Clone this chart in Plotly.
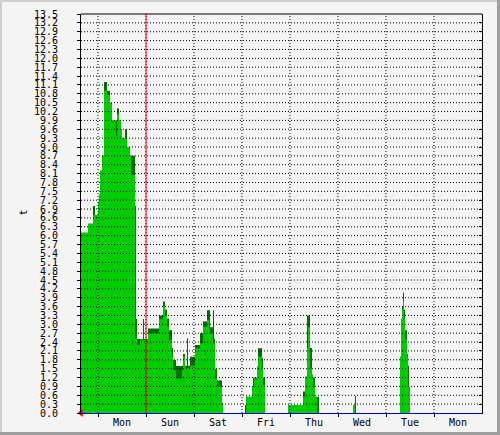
import plotly.graph_objects as go

# time in hours from the left edge of the graph (0.5 h per sample)
hours = [0, 3.5, 6, 7, 8.5, 9, 9.5, 10.5, 11.5, 13, 14.5, 15.5, 16.5, 17.5, 18, 19, 20, 20.5,
         22, 23, 24.5, 25, 27, 27.5, 28, 29.5, 31, 31.5, 33.5, 39, 41, 42, 43, 44, 45.5, 46,
         47.5, 50.5, 51, 52, 53, 53.5, 54.5, 57, 59.5, 61, 63, 64, 64.5, 66, 66.5, 67, 68,
         70.5, 71, 82, 82.5, 85.5, 86, 86.5, 88, 88.5, 90.5, 91, 92, 103.5, 111, 112, 113,
         113.5, 114.5, 115.5, 116, 117, 118, 119, 136, 137, 137.5, 159.5, 160, 160.5, 161,
         161.5, 162, 163, 163.5, 164, 164.5, 200.5]
avg = [6.1, 6.4, 6.7, 6.7, 7.15, 7.4, 8.2, 8.7, 10.9, 10.76, 10.48, 9.86, 9.9, 9.4, 10.1, 9.9, 9.57, 9.3,
       9.3, 9.0, 8.73, 8.05, 2.5, 2.53, 2.3, 2.49, 2.49, 2.49, 2.7, 3.17, 3.6, 3.3, 2.92, 2.47, 1.9, 1.45,
       1.17, 1.45, 1.9, 1.51, 1.51, 1.51, 1.6, 2.19, 2.36, 2.92, 3.15, 2.86, 2.7, 2.36, 2.36, 1.17, 0.89,
       0.33, 0, 0, 0.55, 0.87, 0.87, 1.17, 1.57, 1.9, 1.52, 0.95, 0, 0.27, 0.55, 1.23, 2.19,
       2.9, 1.51, 1.29, 0.89, 0.55, 0, 0, 0.27, 0, 0, 1.9, 3.17, 3.48, 3.77,
       3.2, 2.49, 1.9, 0.87, 0.87, 0, 0]
peak = [6.1, 6.4, 7.0, 6.7, 7.15, 7.4, 8.2, 8.7, 11.2, 10.9, 10.5, 9.9, 9.9, 9.9, 10.3, 9.9, 9.6, 9.3,
        9.6, 9.0, 8.73, 8.7, 7.0, 3.18, 2.5, 2.5, 3.18, 2.5, 2.86, 3.3, 3.77, 3.5, 3.2, 2.8, 2.2, 1.79,
        1.59, 1.6, 2.0, 1.6, 2.53, 1.6, 1.9, 2.3, 2.7, 3.1, 3.48, 3.48, 2.9, 3.48, 2.5, 1.5, 1.1,
        0.33, 0, 0.27, 0.55, 0.87, 1.19, 1.19, 1.57, 2.19, 1.86, 1.2, 0, 0.27, 0.73, 1.23, 3.3,
        3.3, 2.2, 1.29, 1.2, 0.55, 0.55, 0, 0.27, 0.57, 0, 1.9, 3.17, 3.6, 4.08,
        3.5, 2.8, 2.0, 1.6, 0.87, 0, 0]
assert len(hours) == len(avg) == len(peak)

day_labels = ["Mon", "Sun", "Sat", "Fri", "Thu", "Wed", "Tue", "Mon"]
day_lines = [8.5 + 24 * i for i in range(8)]
day_centers = [20.5 + 24 * i for i in range(8)]
y_ticks = [round(0.3 * i, 1) for i in range(46)]
marker_hour = 32.5

X0, X1, Y0, Y1 = 0, 200.5, 0, 13.5
FONT = "DejaVu Sans Mono"

fig = go.Figure()
fig.add_trace(go.Scatter(x=hours, y=peak, mode="lines", line=dict(shape="hv", width=0, color="#006e00"),
                         fill="tozeroy", fillcolor="#006e00", hoverinfo="skip"))
fig.add_trace(go.Scatter(x=hours, y=avg, mode="lines", line=dict(shape="hv", width=0, color="#00cc00"),
                         fill="tozeroy", fillcolor="#00cc00", hoverinfo="skip"))
fig.add_trace(go.Scatter(x=[X0], y=[0], mode="markers", cliponaxis=False,
                         marker=dict(symbol="triangle-left", size=7, color="#ff0000"), hoverinfo="skip"))
fig.add_trace(go.Scatter(x=[X0], y=[0], yaxis="y2", mode="markers", marker=dict(opacity=0), hoverinfo="skip"))

shapes = []
for v in y_ticks[1:-1]:
    shapes.append(dict(type="line", xref="x", yref="y", x0=X0, x1=X1, y0=v, y1=v, layer="above",
                       line=dict(color="#000000", width=1, dash="1px,2px")))
for h in day_lines:
    shapes.append(dict(type="line", xref="x", yref="y", x0=h, x1=h, y0=Y0, y1=Y1, layer="above",
                       line=dict(color="#000000", width=1, dash="1px,2px")))
shapes.append(dict(type="line", xref="x", yref="y", x0=marker_hour, x1=marker_hour, y0=Y0, y1=Y1,
                   layer="above", line=dict(color="#ff0000", width=1)))
shapes.append(dict(type="line", xref="paper", yref="paper", x0=0, x1=1, y0=1, y1=1, layer="above",
                   line=dict(color="#000000", width=1)))

# outer frame (3D-ish shading like rrdtool)
def px(p):
    return (p - 81) / 401.0
def py(p):
    return (413 - p) / 399.0
shapes += [
    dict(type="rect", xref="paper", yref="paper", x0=px(0), x1=px(500), y0=py(0), y1=py(2),
         fillcolor="#cfcfcf", line=dict(width=0), layer="above"),
    dict(type="rect", xref="paper", yref="paper", x0=px(0), x1=px(2), y0=py(0), y1=py(435),
         fillcolor="#cfcfcf", line=dict(width=0), layer="above"),
    dict(type="rect", xref="paper", yref="paper", x0=px(497), x1=px(500), y0=py(0), y1=py(435),
         fillcolor="#9e9e9e", line=dict(width=0), layer="above"),
    dict(type="rect", xref="paper", yref="paper", x0=px(0), x1=px(500), y0=py(432), y1=py(435),
         fillcolor="#9e9e9e", line=dict(width=0), layer="above"),
]

fig.update_layout(
    width=500, height=435,
    margin=dict(l=81, r=18, t=14, b=22, autoexpand=False),
    paper_bgcolor="#f4f4f4", plot_bgcolor="#f4f4f4",
    showlegend=False,
    font=dict(family=FONT, size=10, color="#000000"),
    shapes=shapes,
    xaxis=dict(range=[X0, X1], showgrid=False, zeroline=False, tickmode="array", automargin=False,
               tickvals=day_centers, ticktext=day_labels, ticks="", ticklen=0,
               showline=True, linecolor="#0000c8", linewidth=1, layer="above traces",
               minor=dict(tickmode="array", tickvals=day_lines, ticks="outside", ticklen=3,
                          tickcolor="#000000", tickwidth=1, showgrid=False),
               tickfont=dict(family=FONT, size=10)),
    yaxis=dict(range=[Y0, Y1], showgrid=False, zeroline=False, tickmode="array", automargin=False,
               tickvals=y_ticks, ticktext=[f"{v:.1f}" for v in y_ticks],
               ticks="outside", ticklen=3, tickcolor="#000000", ticklabelstandoff=17,
               showline=True, linecolor="#000000", linewidth=1, layer="above traces",
               tickfont=dict(family=FONT, size=10)),
    yaxis2=dict(range=[Y0, Y1], overlaying="y", side="right", showgrid=False, zeroline=False,
                automargin=False,
                tickmode="array", tickvals=y_ticks, ticks="inside", ticklen=3, tickcolor="#000000",
                showticklabels=False, showline=True, linecolor="#000000", linewidth=1),
    annotations=[dict(text="t", xref="paper", yref="paper", x=px(15), y=py(213), showarrow=False,
                      textangle=-90, font=dict(family=FONT, size=10))],
)

fig.write_html("out.html", config={"displayModeBar": False},
               post_script="document.body.style.margin='0';document.body.style.overflow='hidden';")
